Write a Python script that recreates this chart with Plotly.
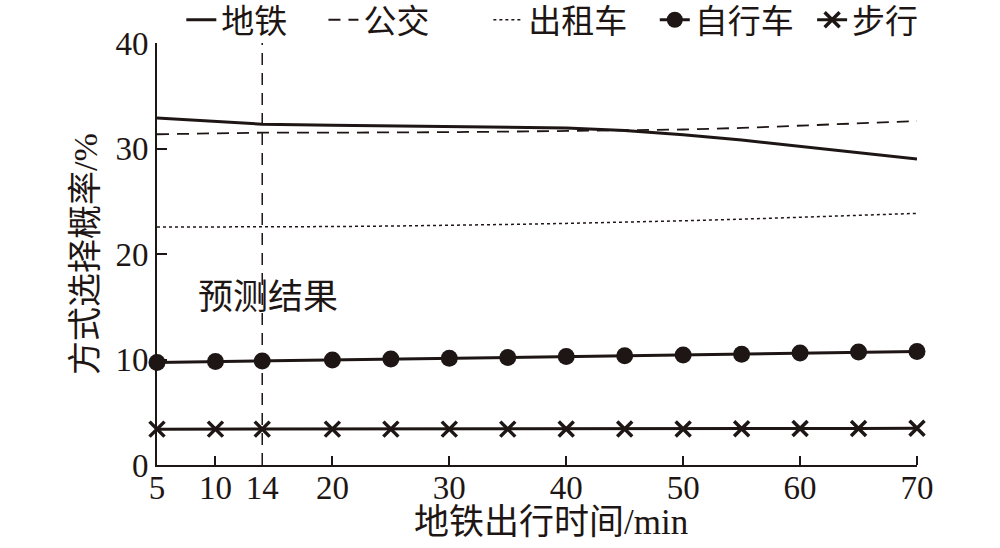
import plotly.graph_objects as go

x_line = [5, 10, 14, 20, 25, 30, 35, 40, 45, 50, 55, 60, 65, 70]
subway = [32.9, 32.6, 32.3, 32.2, 32.15, 32.1, 32.05, 31.95, 31.7, 31.3, 30.8, 30.2, 29.6, 29.0]
bus = [31.35, 31.45, 31.5, 31.5, 31.5, 31.55, 31.6, 31.65, 31.7, 31.8, 31.95, 32.15, 32.35, 32.6]
taxi = [22.55, 22.55, 22.55, 22.6, 22.65, 22.7, 22.8, 22.9, 23.0, 23.15, 23.3, 23.5, 23.7, 23.85]
bike = [9.72, 9.8, 9.85, 9.95, 10.05, 10.12, 10.2, 10.28, 10.36, 10.42, 10.5, 10.62, 10.72, 10.75]
walk = [3.4, 3.4, 3.4, 3.4, 3.4, 3.4, 3.4, 3.41, 3.42, 3.42, 3.44, 3.45, 3.46, 3.48]

names = ["地铁", "公交", "出租车", "自行车", "步行"]
x_ticks = [5, 10, 14, 20, 30, 40, 50, 60, 70]
x_minor_ticks = [10, 20, 30, 40, 50, 60, 70]
y_ticks = [0, 10, 20, 30, 40]
y_minor_ticks = [10, 20, 30]
pred_x = 14
pred_label = "预测结果"
x_title = "地铁出行时间/min"
y_title = "方式选择概率/%"

C = "#1e1614"
FONT = "Liberation Serif, Noto Sans CJK SC, serif"
LEG_FONT = dict(family=FONT, size=33, color=C)

legend_x = [0.032, 0.219, 0.436, 0.655, 0.862]
legend_keys = ["legend", "legend2", "legend3", "legend4", "legend5"]

fig = go.Figure()
fig.add_trace(go.Scatter(x=x_line, y=subway, name=names[0], mode="lines",
                         line=dict(color=C, width=3), legend=legend_keys[0]))
fig.add_trace(go.Scatter(x=x_line, y=bus, name=names[1], mode="lines",
                         line=dict(color=C, width=1.8, dash="12px,8px"), legend=legend_keys[1]))
fig.add_trace(go.Scatter(x=x_line, y=taxi, name=names[2], mode="lines",
                         line=dict(color=C, width=1.5, dash="3px,3px"), legend=legend_keys[2]))
fig.add_trace(go.Scatter(x=x_line, y=bike, name=names[3], mode="lines+markers",
                         line=dict(color=C, width=3),
                         marker=dict(symbol="circle", size=17, color=C),
                         cliponaxis=False, legend=legend_keys[3]))
fig.add_trace(go.Scatter(x=x_line, y=walk, name=names[4], mode="lines+markers",
                         line=dict(color=C, width=3),
                         marker=dict(symbol="x-thin", size=15, color=C,
                                     line=dict(color=C, width=3.5)),
                         cliponaxis=False, legend=legend_keys[4]))

fig.add_shape(type="line", x0=pred_x, x1=pred_x, y0=0, y1=1, yref="paper", xref="x",
              line=dict(color=C, width=1.5, dash="12px,8px"))
fig.add_annotation(x=pred_x + 0.5, y=15.9, text=pred_label, showarrow=False,
                   font=dict(family=FONT, size=35, color=C))
fig.add_annotation(x=0.518, y=-0.137, xref="paper", yref="paper", text=x_title,
                   showarrow=False, xanchor="center", yanchor="middle",
                   font=dict(family=FONT, size=35, color=C))

legends = {}
for key, lx in zip(legend_keys, legend_x):
    legends[key] = dict(orientation="h", x=lx, y=1.055, xanchor="left", yanchor="middle",
                        font=LEG_FONT, bgcolor="rgba(0,0,0,0)", itemwidth=30)

fig.update_layout(
    width=1000, height=548,
    margin=dict(l=157, r=83, t=43, b=83, autoexpand=False),
    paper_bgcolor="white", plot_bgcolor="white",
    font=dict(family=FONT, size=33, color=C),
    showlegend=True,
    xaxis=dict(range=[5, 70], tickmode="array", tickvals=x_ticks,
               ticktext=[str(v) for v in x_ticks], ticks="", automargin=False,
               ticklabelstandoff=-8,
               showline=True, linecolor=C, linewidth=2, showgrid=False, zeroline=False,
               minor=dict(tickmode="array", tickvals=x_minor_ticks, ticks="inside",
                          ticklen=9, tickwidth=1.5, tickcolor=C, showgrid=False)),
    yaxis=dict(range=[0, 40], tickmode="array", tickvals=y_ticks, ticks="", automargin=False,
               showline=True, linecolor=C, linewidth=2, showgrid=False, zeroline=False,
               minor=dict(tickmode="array", tickvals=y_minor_ticks, ticks="inside",
                          ticklen=10, tickwidth=1.5, tickcolor=C, showgrid=False),
               title=dict(text=y_title, standoff=8,
                          font=dict(family=FONT, size=34, color=C))),
    **legends,
)

fig.write_html("out.html", config={"displayModeBar": False},
               post_script="document.body.style.margin='0';document.body.style.overflow='hidden';")
